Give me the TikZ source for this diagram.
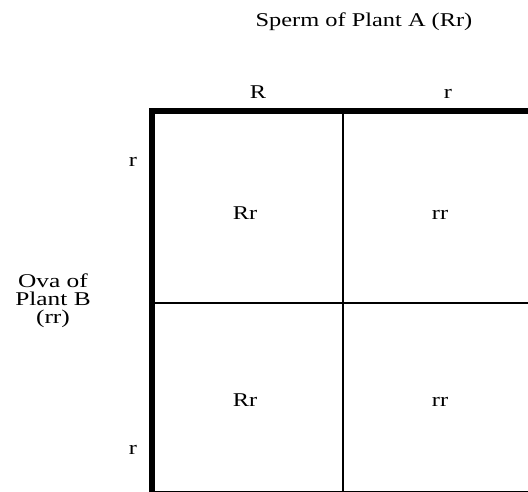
\documentclass[tikz,border=0pt]{standalone}
\usepackage{fontspec}
\setmainfont{Liberation Serif}
\newcommand\widetxt[1]{\scalebox{1.25}[1]{#1}}
\newcommand\widertxt[1]{\scalebox{1.3}[1]{#1}}
\begin{document}
\begin{tikzpicture}[x=1pt,y=-1pt,
  lbl/.style={font=\fontsize{19.5}{20}\selectfont, inner sep=0pt, anchor=base},
  thickbox/.style={line width=6pt},
  thinline/.style={line width=2.5pt}]
\useasboundingbox (0,0) rectangle (528,491);
\clip (0,0) rectangle (528,491);
\fill[white] (0,0) rectangle (528,491);
\coordinate (tl) at (151.5,110.5);
\coordinate (br) at (531,494);
\coordinate (vtop) at (343,110.5);
\coordinate (vbot) at (343,494);
\coordinate (hl) at (151.5,303);
\coordinate (hr) at (531,303);
\draw[thinline] (vtop) -- (vbot);
\draw[thinline] (hl) -- (hr);
\draw[thickbox] (tl) rectangle (br);
\node[lbl] (title) at (364,26) {\widetxt{Sperm of Plant A (Rr)}};
\node[lbl] (cR) at (258,98) {\widetxt{R}};
\node[lbl] (cr) at (448,98) {\widetxt{r}};
\node[lbl] (rr1) at (133,166) {\widetxt{r}};
\node[lbl] (rr2) at (133,454) {\widetxt{r}};
\node[font=\fontsize{19.5}{18}\selectfont, align=center, inner sep=0pt] (ova) at (53,301) {\widertxt{Ova of}\\\widertxt{Plant B}\\\widertxt{(rr)}};
\node[lbl] (c11) at (245,219) {\widetxt{Rr}};
\node[lbl] (c12) at (440,219) {\widetxt{rr}};
\node[lbl] (c21) at (245,406) {\widetxt{Rr}};
\node[lbl] (c22) at (440,406) {\widetxt{rr}};
\end{tikzpicture}
\end{document}
